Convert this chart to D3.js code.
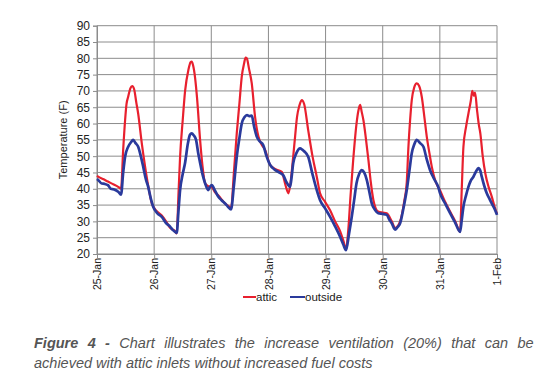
<!DOCTYPE html>
<html>
<head>
<meta charset="utf-8">
<script src="https://cdn.jsdelivr.net/npm/d3@7"></script>
<style>
  body { margin: 0; background: #fff; }
  svg { display: block; font-family: "Liberation Sans", Arial, sans-serif; }
</style>
</head>
<body>
<div id="chart"></div>
<script>
const width = 549, height = 383;

// x tick labels, one per day
const dayLabels = ["25-Jan", "26-Jan", "27-Jan", "28-Jan", "29-Jan", "30-Jan", "31-Jan", "1-Feb"];
const yTicks = d3.range(20, 91, 5);

// [hours since 25-Jan 00:00, temperature F]
const attic = [
  [0, 44], [0.5, 43.7], [2.5, 43], [4.6, 42.2], [6.5, 41.5], [8.9, 40.6], [10.1, 40], [11, 52],
  [11.8, 61], [12.4, 66], [13.1, 68.2], [14, 70.8], [14.8, 71.5], [15.6, 70.5], [16.5, 66.5],
  [17.3, 63], [18.8, 54], [20.2, 46.8], [21.6, 40.5], [23, 35.6], [25, 33.2], [27.2, 31.8],
  [29, 30], [30.7, 28], [32.8, 27], [33.5, 26.3], [34.2, 38], [34.9, 49.8], [36, 61], [37, 70],
  [38.4, 76.5], [39.3, 78.8], [39.8, 79], [40.3, 78], [41.2, 74], [42, 68], [43.3, 55],
  [44.3, 47], [45.4, 41.7], [46.7, 40.8], [48.2, 40.5], [49.5, 39], [50.9, 38], [53.8, 35.5],
  [55.5, 34.5], [56.3, 34], [57.5, 45], [58.7, 57], [59.8, 66], [60.8, 74.4], [61.8, 78.5],
  [62.4, 80.2], [62.9, 80], [63.8, 77], [65, 72.3], [66.4, 62], [67.8, 56], [69.2, 53.5],
  [70.6, 51.9], [72.7, 47.3], [75, 46], [77.6, 45.2], [79.2, 41], [80.4, 38.6], [81.3, 42],
  [82.4, 49.8], [83.2, 56], [84, 62], [85, 65.5], [86, 67.2], [87, 66], [88.7, 58], [90.5, 50],
  [92.3, 43.7], [93.7, 38.6], [95.8, 36], [97.9, 33.4], [100, 30], [102.1, 27], [103.5, 24],
  [104.6, 21.5], [105.5, 27], [106.5, 38], [107.6, 48.8], [109, 60], [109.8, 64], [110.5, 65.7],
  [111.2, 63.5], [111.9, 61], [113, 55], [114, 48.8], [115, 42], [116.1, 36.5], [118.1, 33],
  [120, 32.7], [121.7, 32.5], [123.8, 30], [125.2, 28], [127.3, 30], [129, 36], [130.1, 42],
  [130.8, 52.9], [131.5, 61], [132.2, 67.2], [133.2, 71], [134.3, 72.3], [135.3, 71.5],
  [136.4, 68.2], [137.5, 62], [138.5, 56], [139.6, 51], [140.6, 46.8], [142.3, 42],
  [144.1, 39.5], [146.2, 36], [148.3, 33], [150.5, 30], [152.5, 26.8], [153.2, 40],
  [153.9, 52.9], [155, 59], [156, 63.1], [157, 67], [157.6, 70], [158.3, 68.5], [158.8, 69.5],
  [159.6, 64.2], [160.3, 60], [161, 57], [162, 50], [163.1, 44.7], [164.5, 40.5],
  [165.8, 37.6], [167, 34.5], [168, 32.3]
];

const outside = [
  [0, 43], [0.5, 42.7], [2, 41.6], [3.2, 41.5], [4.6, 41.1], [5.8, 40], [7.2, 39.8],
  [8.9, 39.1], [10.1, 38.2], [11, 45], [11.8, 49.8], [13.1, 52.9], [14.2, 54.2], [15.2, 55],
  [16.2, 54], [17.3, 52.9], [18.4, 50], [19.4, 46.8], [20.5, 43], [21.5, 40.6], [22.6, 37],
  [23.6, 34.5], [25.3, 32.5], [27.2, 31.4], [29, 29.5], [30.7, 28.4], [31.8, 27.4],
  [32.8, 26.8], [33.5, 26.5], [34.2, 33], [34.9, 39.6], [36, 44.5], [37, 48], [38.2, 54],
  [39, 56.5], [39.8, 57], [40.6, 56.4], [41.6, 55], [42.5, 51], [43.3, 48], [44.3, 44.5],
  [45.4, 41.7], [46.7, 39.6], [47.4, 40.5], [48.2, 41.1], [49.5, 39.5], [50.9, 37.6],
  [52.3, 36.5], [53.8, 35.5], [55, 34.5], [56.3, 33.7], [57.5, 41], [58.7, 49.8], [59.8, 55.5],
  [60.8, 60], [62, 62], [63, 62.6], [64, 62.3], [65, 62.4], [66, 59], [67.1, 56], [68.4, 54.5],
  [69.8, 53.4], [71.2, 50], [72.7, 47.3], [74.4, 46], [76.1, 45.2], [78.2, 44.2], [79.6, 42],
  [81.1, 40.6], [81.8, 44], [82.4, 47.8], [83.8, 51], [85.3, 52.4], [86.2, 52], [87, 51.5],
  [88.7, 49.8], [90.5, 44.5], [92.3, 39.6], [93.7, 36.5], [95.8, 34], [97.9, 31.4],
  [100, 28.5], [102.1, 25.3], [103.4, 23], [104.6, 21.2], [105.8, 26], [107, 31.4],
  [108, 36.5], [109, 41.7], [110.1, 44.5], [111.2, 45.7], [112.2, 45], [113.3, 42.7],
  [114.4, 39], [115.4, 35.5], [116.8, 33.5], [118.1, 32.5], [120, 32.3], [121.7, 32],
  [122.8, 30.5], [123.8, 29.4], [125.2, 27.5], [126.2, 28.2], [127.3, 29.4], [128.7, 34],
  [130.1, 39.6], [131.2, 45.5], [132.2, 50.9], [133.2, 53.5], [134.3, 55], [135.7, 54],
  [137.1, 52.9], [138.5, 49], [139.9, 45.7], [141.6, 43], [143.3, 40.6], [144.1, 38.6],
  [146.2, 35.5], [148.3, 32.5], [150.5, 29.5], [152.5, 26.8], [153.2, 30.5], [153.9, 34.5],
  [155, 38], [156, 40.6], [157, 42.5], [158.1, 43.7], [159.2, 45.3], [160.2, 46.3],
  [161, 45.5], [161.6, 43.7], [162.6, 41], [163.7, 38.6], [164.8, 37], [165.8, 35.5],
  [167, 33.8], [168, 32]
];

const margin = { top: 25.7, left: 97, right: 52, bottom: 129 };
const plotW = width - margin.left - margin.right;
const plotH = height - margin.top - margin.bottom;

const svg = d3.select("#chart").append("svg")
    .attr("width", width)
    .attr("height", height);

const x = d3.scaleLinear().domain([0, 168]).range([margin.left, margin.left + plotW]);
const y = d3.scaleLinear().domain([20, 90]).range([margin.top + plotH, margin.top]);

// grid
svg.append("g")
    .selectAll("line")
    .data(yTicks)
    .join("line")
    .attr("x1", x(0)).attr("x2", x(168))
    .attr("y1", d => y(d)).attr("y2", d => y(d))
    .attr("stroke", "#8c8c8c").attr("stroke-width", 1);

svg.append("g")
    .selectAll("line")
    .data(dayLabels)
    .join("line")
    .attr("x1", (d, i) => x(i * 24)).attr("x2", (d, i) => x(i * 24))
    .attr("y1", y(20)).attr("y2", y(90))
    .attr("stroke", "#8c8c8c").attr("stroke-width", 1);

// y axis
const yAxis = svg.append("g")
    .attr("transform", `translate(${x(0)},0)`)
    .call(d3.axisLeft(y).tickValues(yTicks).tickSize(4).tickPadding(3));
yAxis.select(".domain").attr("stroke", "#8c8c8c");
yAxis.selectAll(".tick line").attr("stroke", "#8c8c8c");
yAxis.selectAll("text").attr("font-size", 12).attr("fill", "#222").style("font-family", "Liberation Sans, Arial, sans-serif");

// x axis
const xAxis = svg.append("g")
    .attr("transform", `translate(0,${y(20)})`)
    .call(d3.axisBottom(x).tickValues(d3.range(0, 169, 24))
        .tickFormat((d, i) => dayLabels[i]).tickSize(4));
xAxis.select(".domain").attr("stroke", "#8c8c8c");
xAxis.selectAll(".tick line").attr("stroke", "#8c8c8c");
xAxis.selectAll("text")
    .attr("font-size", 10.5).attr("fill", "#222")
    .style("font-family", "Liberation Sans, Arial, sans-serif")
    .attr("transform", "rotate(-90)")
    .attr("text-anchor", "end")
    .attr("x", -4).attr("y", 0).attr("dy", "0.35em");

svg.append("text")
    .attr("transform", `translate(67,${y(55)}) rotate(-90)`)
    .attr("text-anchor", "middle")
    .attr("font-size", 11).attr("fill", "#222")
    .text("Temperature (F)");

const line = d3.line().x(d => x(d[0])).y(d => y(d[1])).curve(d3.curveMonotoneX);

svg.append("path").datum(attic)
    .attr("d", line).attr("fill", "none")
    .attr("stroke", "#e8202e").attr("stroke-width", 2.2)
    .attr("stroke-linejoin", "round");

svg.append("path").datum(outside)
    .attr("d", line).attr("fill", "none")
    .attr("stroke", "#2a3a9c").attr("stroke-width", 2.7)
    .attr("stroke-linejoin", "round");

// legend
const legend = svg.append("g").attr("transform", "translate(243,297)");
legend.append("line").attr("x1", 0).attr("x2", 13).attr("y1", 0).attr("y2", 0)
    .attr("stroke", "#e8202e").attr("stroke-width", 2);
legend.append("text").attr("x", 13).attr("y", 4).attr("font-size", 11.5).attr("fill", "#222").text("attic");
legend.append("line").attr("x1", 47).attr("x2", 62).attr("y1", 0).attr("y2", 0)
    .attr("stroke", "#2a3a9c").attr("stroke-width", 2);
legend.append("text").attr("x", 62).attr("y", 4).attr("font-size", 11.5).attr("fill", "#222").text("outside");

// caption, first line justified to the column width
const cap = svg.append("text")
    .attr("font-size", 14.5).attr("font-style", "italic").attr("fill", "#555");
const l1 = cap.append("tspan").attr("x", 34).attr("y", 348);
l1.append("tspan").attr("font-weight", "bold").text("Figure 4 -");
l1.append("tspan").text(" Chart illustrates the increase ventilation (20%) that can be");
svg.append("text")
    .attr("font-size", 14.5).attr("font-style", "italic").attr("fill", "#555")
    .attr("x", 34).attr("y", 368)
    .text("achieved with attic inlets without increased fuel costs");

const targetW = 505;
const w1 = cap.node().getComputedTextLength();
cap.attr("word-spacing", Math.max(0, (targetW - w1) / 12));
</script>
</body>
</html>
